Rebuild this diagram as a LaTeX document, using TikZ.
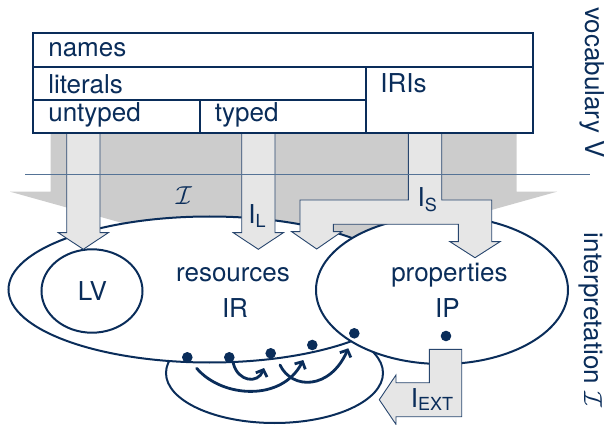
\RequirePackage{fix-cm}
\documentclass[tikz,border=0pt]{standalone}
\usepackage{fontspec}
\setmainfont{TeX Gyre Heros}
\usetikzlibrary{arrows.meta,shapes.geometric}

\definecolor{navy}{RGB}{10,45,90}
\definecolor{rulecol}{RGB}{85,115,150}
\definecolor{edgecol}{RGB}{40,70,110}
\definecolor{pale}{RGB}{230,230,230}
\definecolor{bigfill}{RGB}{204,204,204}

% lowered index letters for I_L, I_S, I_EXT
\newcommand\lowidx[2]{\raisebox{-#1}{\fontsize{18}{18}\selectfont #2}}

\begin{document}
\begin{tikzpicture}[x=1pt,y=-1pt,
  every node/.style={text=navy, inner sep=0pt, outer sep=0pt, font=\fontsize{26}{31}\selectfont},
  lbl/.style={anchor=base west},
  cell/.style={draw=navy, line width=2pt, fill=white},
  setshape/.style={draw=navy, line width=2pt, fill=white, ellipse},
  block/.style={fill=pale, draw=edgecol, line width=0.9pt, line join=miter},
  dot/.style={circle, fill=navy, minimum size=10.6pt},
  flow/.style={draw=navy, line width=2.8pt, line cap=round, -{Straight Barb[length=5.5pt,width=12pt]}},
]
\useasboundingbox (0,0) rectangle (606,425);

% broad mapping arrow from the vocabulary down to the interpretation
\fill[bigfill] (50.7,133.3) -- (50.7,191.7) -- (10,191.7) -- (283.7,268)
  -- (557,191.7) -- (516.7,191.7) -- (516.7,133.3) -- cycle;

% sets of the interpretation
\node[setshape, minimum width=217pt, minimum height=100pt] (loop) at (274.5,373) {};
\node[setshape, minimum width=402pt, minimum height=146pt] (IR) at (209.5,289.5) {};
\node[setshape, minimum width=101pt, minimum height=83.4pt] (LV) at (92,291) {};
\node[setshape, minimum width=252pt, minimum height=148pt] (IP) at (442,290) {};

% I_L, literal values and I_S block arrows
\draw[block] (66.7,133.3) -- (66.7,232.7) -- (58.3,232.7) -- (83.3,249.3)
  -- (108.3,232.7) -- (100,232.7) -- (100,133.3) -- cycle;
\draw[block] (241.7,133.3) -- (241.7,232.7) -- (233.3,232.7) -- (258.3,249.3)
  -- (283.3,232.7) -- (275,232.7) -- (275,133.3) -- cycle;
\draw[block] (408.3,133.3) -- (408.3,200) -- (300,200) -- (300,231.7)
  -- (291.7,231.7) -- (316.7,249) -- (341.7,231.7) -- (333.3,231.7)
  -- (333.3,224.3) -- (458.3,224.3) -- (458.3,241.7) -- (450,241.7)
  -- (475,257.7) -- (500,241.7) -- (491.7,241.7) -- (491.7,200)
  -- (441.7,200) -- (441.7,133.3) -- cycle;
% I_EXT block arrow
\draw[block] (429.3,349.3) -- (461.7,349.3) -- (461.7,416.7) -- (396,416.7)
  -- (396,424.4) -- (379.3,399.7) -- (396,375) -- (396,382.7)
  -- (429.3,382.7) -- cycle;

% separator between vocabulary and interpretation
\draw[rulecol, line width=1.3pt] (25,174.5) -- (590,174.5);

% vocabulary table
\draw[cell] (33.3,33.3) rectangle (533.3,66.7);
\draw[cell] (33.3,66.7) rectangle (366.4,100);
\draw[cell] (366.4,66.7) rectangle (533.3,133.3);
\draw[cell] (33.3,100) rectangle (200,133.3);
\draw[cell] (200,100) rectangle (366.4,133.3);

\node[lbl] (tnames) at (48.3,56.7) {names};
\node[lbl] (tlit) at (48.3,93.3) {literals};
\node[lbl] (tunt) at (48.3,121.7) {untyped};
\node[lbl] (ttyp) at (214.9,121.7) {typed};
\node[lbl] (tiri) at (380.3,93) {IRIs};

% set labels
\node[anchor=base] (tres) at (233,281.7) {resources};
\node[anchor=base] (tIR) at (235,317.3) {IR};
\node[anchor=base] (tprop) at (449.4,281.7) {properties};
\node[anchor=base] (tIP) at (447.5,317.3) {IP};
\node[anchor=base] (tLV) at (92.5,300.7) {LV};

% mapping labels
\node[anchor=base] (tI) at (184,205) {$\mathcal{I}$};
\node[lbl] (tIL) at (248.3,224) {I\lowidx{3.3pt}{L}};
\node[lbl] (tIS) at (417.6,206.7) {I\lowidx{4.5pt}{S}};
\node[lbl] (tIEXT) at (410.9,407) {I\lowidx{3.7pt}{EXT}};

% side captions
\node[anchor=base, rotate=-90] (tvoc) at (585,82.5) {vocabulary V};
\node[anchor=base, rotate=-90] (tint) at (584,320) {interpretation $\mathcal{I}$};

% elements and their links
\node[dot] (d1) at (187.3,357.3) {};
\node[dot] (d2) at (229.3,357.3) {};
\node[dot] (d3) at (270.7,353.3) {};
\node[dot] (d4) at (312.3,345) {};
\node[dot] (d5) at (354.3,333.3) {};
\node[dot] (d6) at (446,336) {};

\coordinate (a1s) at (196.7,368.3);
\coordinate (a1e) at (303.3,360);
\coordinate (a2s) at (233.3,363.3);
\coordinate (a2e) at (264,368);
\coordinate (a3s) at (280,365);
\coordinate (a3e) at (348.3,348.3);
\draw[flow] (a1s) .. controls (222,398) and (282,402) .. (a1e);
\draw[flow] (a2s) .. controls (238,382) and (258,384) .. (a2e);
\draw[flow] (a3s) .. controls (292,390) and (330,390) .. (a3e);
\end{tikzpicture}
\end{document}
